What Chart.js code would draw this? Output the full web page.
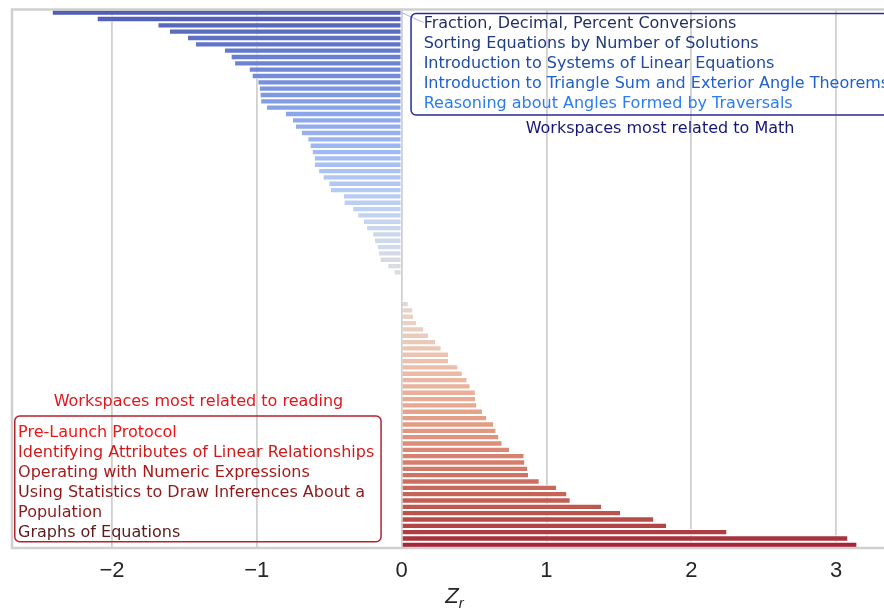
<!DOCTYPE html>
<html>
<head>
<meta charset="utf-8">
<script src="https://cdn.jsdelivr.net/npm/chart.js@4.4.1/dist/chart.umd.min.js"></script>
<style>
  html, body { margin: 0; padding: 0; background: #ffffff; overflow: hidden; }
  #wrap { width: 910px; height: 608px; }
</style>
</head>
<body>
<div id="wrap"><canvas id="myChart" width="910" height="608"></canvas></div>
<script>
// Z_r per workspace, sorted from most math-related (top) to most reading-related (bottom)
var mathSide = [-2.41, -2.10, -1.68, -1.60, -1.475, -1.42, -1.22, -1.175, -1.15, -1.05,
                -1.03, -0.99, -0.98, -0.975, -0.97, -0.93, -0.80, -0.75, -0.73, -0.69,
                -0.645, -0.63, -0.615, -0.60, -0.60, -0.57, -0.54, -0.50, -0.49, -0.40,
                -0.395, -0.335, -0.30, -0.26, -0.24, -0.197, -0.185, -0.163, -0.156, -0.147,
                -0.093, -0.05];
var nearZero = [-0.006, -0.003, 0.002];
var readingSide = [0.012, 0.043, 0.075, 0.08, 0.10, 0.15, 0.183, 0.232, 0.27, 0.32,
                   0.32, 0.386, 0.416, 0.449, 0.47, 0.506, 0.508, 0.516, 0.557, 0.585,
                   0.631, 0.649, 0.668, 0.691, 0.742, 0.843, 0.848, 0.866, 0.873, 0.947,
                   1.067, 1.138, 1.161, 1.378, 1.508, 1.738, 1.826, 2.243, 3.078, 3.141];

var tickValues = [-2, -1, 0, 1, 2, 3];

var mathWorkspaces = [
  "Fraction, Decimal, Percent Conversions",
  "Sorting Equations by Number of Solutions",
  "Introduction to Systems of Linear Equations",
  "Introduction to Triangle Sum and Exterior Angle Theorems",
  "Reasoning about Angles Formed by Traversals"
];
var readingWorkspaces = [
  "Pre-Launch Protocol",
  "Identifying Attributes of Linear Relationships",
  "Operating with Numeric Expressions",
  "Using Statistics to Draw Inferences About a\nPopulation",
  "Graphs of Equations"
];
var mathCaption = "Workspaces most related to Math";
var readingCaption = "Workspaces most related to reading";

var values = mathSide.concat(nearZero, readingSide);
var categories = values.map(function (v, i) { return "Workspace " + (i + 1); });

// matplotlib coolwarm, sampled like seaborn does, then desaturated (seaborn saturation .75)
var coolwarm = [[59,76,192],[68,90,204],[77,104,215],[87,117,225],[98,130,234],[108,142,241],
  [119,154,247],[130,165,251],[141,176,254],[152,185,255],[163,194,255],[174,201,253],
  [184,208,249],[194,213,244],[204,217,238],[213,219,230],[221,221,221],[229,216,209],
  [236,211,197],[241,204,184],[245,196,172],[247,187,160],[247,177,148],[247,166,135],
  [244,154,123],[241,141,111],[236,127,99],[229,112,88],[222,96,77],[213,80,66],
  [203,62,56],[192,40,47],[180,4,38]];

function cmap(t) {
  var p = t * (coolwarm.length - 1);
  var i = Math.min(Math.floor(p), coolwarm.length - 2);
  var f = p - i;
  return [0, 1, 2].map(function (k) {
    return (coolwarm[i][k] + (coolwarm[i + 1][k] - coolwarm[i][k]) * f) / 255;
  });
}

function desaturate(rgb, prop) {
  var mx = Math.max.apply(null, rgb), mn = Math.min.apply(null, rgb);
  var l = (mx + mn) / 2;
  if (mx === mn) return rgb;
  var c = mx - mn;
  var s = c / (1 - Math.abs(2 * l - 1));
  var c2 = (1 - Math.abs(2 * l - 1)) * s * prop;
  var nmx = l + c2 / 2, nmn = l - c2 / 2;
  return rgb.map(function (v) { return nmn + (v - mn) / c * (nmx - nmn); });
}

var barColors = values.map(function (v, i) {
  var rgb = desaturate(cmap((i + 1) / (values.length + 1)), 0.75);
  return 'rgb(' + rgb.map(function (v) { return Math.round(v * 255); }).join(',') + ')';
});

function roundBox(ctx, x, y, w, h, r) {
  ctx.beginPath();
  ctx.moveTo(x + r, y);
  ctx.arcTo(x + w, y, x + w, y + h, r);
  ctx.arcTo(x + w, y + h, x, y + h, r);
  ctx.arcTo(x, y + h, x, y, r);
  ctx.arcTo(x, y, x + w, y, r);
  ctx.closePath();
  ctx.stroke();
}

var annotations = {
  id: 'annotations',
  afterDatasetsDraw: function (chart) {
    var ctx = chart.ctx, a = chart.chartArea, xs = chart.scales.x, ys = chart.scales.y;
    ctx.save();
    // axes frame
    ctx.strokeStyle = '#d0d0d0';
    ctx.lineWidth = 2.5;
    ctx.strokeRect(a.left, a.top, a.right - a.left, a.bottom - a.top);

    ctx.font = '16px "DejaVu Sans"';
    ctx.textBaseline = 'alphabetic';

    // math side
    var mLeft = xs.getPixelForValue(0.065), tLeft = xs.getPixelForValue(0.152);
    ctx.strokeStyle = '#aab3e6';
    ctx.lineWidth = 1;
    ctx.beginPath();
    ctx.moveTo(xs.getPixelForValue(0), ys.getPixelForValue(0));
    ctx.lineTo(tLeft, a.top + 13);
    ctx.stroke();

    ctx.strokeStyle = '#2a2a9c';
    ctx.lineWidth = 1.5;
    roundBox(ctx, mLeft, a.top + 4, 520, 101.5, 5);
    var mathColors = ['#1f2d5e', '#1f3c82', '#1e4ca6', '#2060cf', '#2b7cf2'];
    ctx.textAlign = 'left';
    mathWorkspaces.forEach(function (name, k) {
      ctx.fillStyle = mathColors[k];
      ctx.fillText(name, tLeft, a.top + 18 + 20 * k);
    });
    ctx.textAlign = 'center';
    ctx.fillStyle = '#16167a';
    ctx.fillText(mathCaption, xs.getPixelForValue(1.784), a.top + 123);

    // reading side
    ctx.fillStyle = '#e0161e';
    ctx.fillText(readingCaption, xs.getPixelForValue(-1.403), a.top + 396.2);
    var rLeft = xs.getPixelForValue(-2.671), rRight = xs.getPixelForValue(-0.142);
    ctx.strokeStyle = '#b3232f';
    roundBox(ctx, rLeft, a.top + 406.5, rRight - rLeft, 125.7, 5);
    var readingColors = ['#f01414', '#cf1b1b', '#a81a1a', '#8c1a1a', '#5c1a1a'];
    ctx.textAlign = 'left';
    var line = 0;
    readingWorkspaces.forEach(function (name, k) {
      name.split('\n').forEach(function (part) {
        ctx.fillStyle = readingColors[k];
        ctx.fillText(part, xs.getPixelForValue(-2.648), a.top + 427.2 + 20 * line);
        line++;
      });
    });

    // x axis title Z_r
    ctx.fillStyle = '#262626';
    ctx.font = 'italic 22px "Liberation Sans"';
    var zw = ctx.measureText('Z').width;
    ctx.font = 'italic 15px "Liberation Sans"';
    var rw = ctx.measureText('r').width;
    var cx = (a.left + a.right) / 2 - (zw + rw) / 2;
    ctx.font = 'italic 22px "Liberation Sans"';
    ctx.fillText('Z', cx, a.bottom + 54.7);
    ctx.font = 'italic 15px "Liberation Sans"';
    ctx.fillText('r', cx + zw, a.bottom + 59.7);
    ctx.restore();
  }
};

window.onload = function () {
  var ctx = document.getElementById("myChart").getContext('2d');
  new Chart(ctx, {
    type: 'bar',
    data: {
      labels: categories,
      datasets: [{
        data: values,
        backgroundColor: barColors,
        borderColor: '#ffffff',
        borderWidth: { top: 1, bottom: 1, left: 0, right: 0 },
        borderSkipped: false,
        inflateAmount: 0,
        barPercentage: 1,
        categoryPercentage: 1
      }]
    },
    options: {
      indexAxis: 'y',
      responsive: false,
      animation: false,
      layout: { padding: { left: 12, right: 13, top: 9.5, bottom: 0 } },
      plugins: { legend: { display: false }, tooltip: { enabled: false } },
      scales: {
        x: {
          min: -2.69,
          max: 3.42,
          afterBuildTicks: function (scale) {
            scale.ticks = tickValues.map(function (v) { return { value: v }; });
          },
          afterFit: function (scale) { scale.height = 60; },
          ticks: {
            padding: 10,
            color: '#262626',
            font: { family: 'Liberation Sans', size: 22 },
            callback: function (v) { return v < 0 ? '\u2212' + Math.abs(v) : String(v); }
          },
          grid: { color: '#d0d0d0', lineWidth: 1.8, drawTicks: false },
          border: { display: false }
        },
        y: { display: false }
      }
    },
    plugins: [annotations]
  });
};
</script>
</body>
</html>
